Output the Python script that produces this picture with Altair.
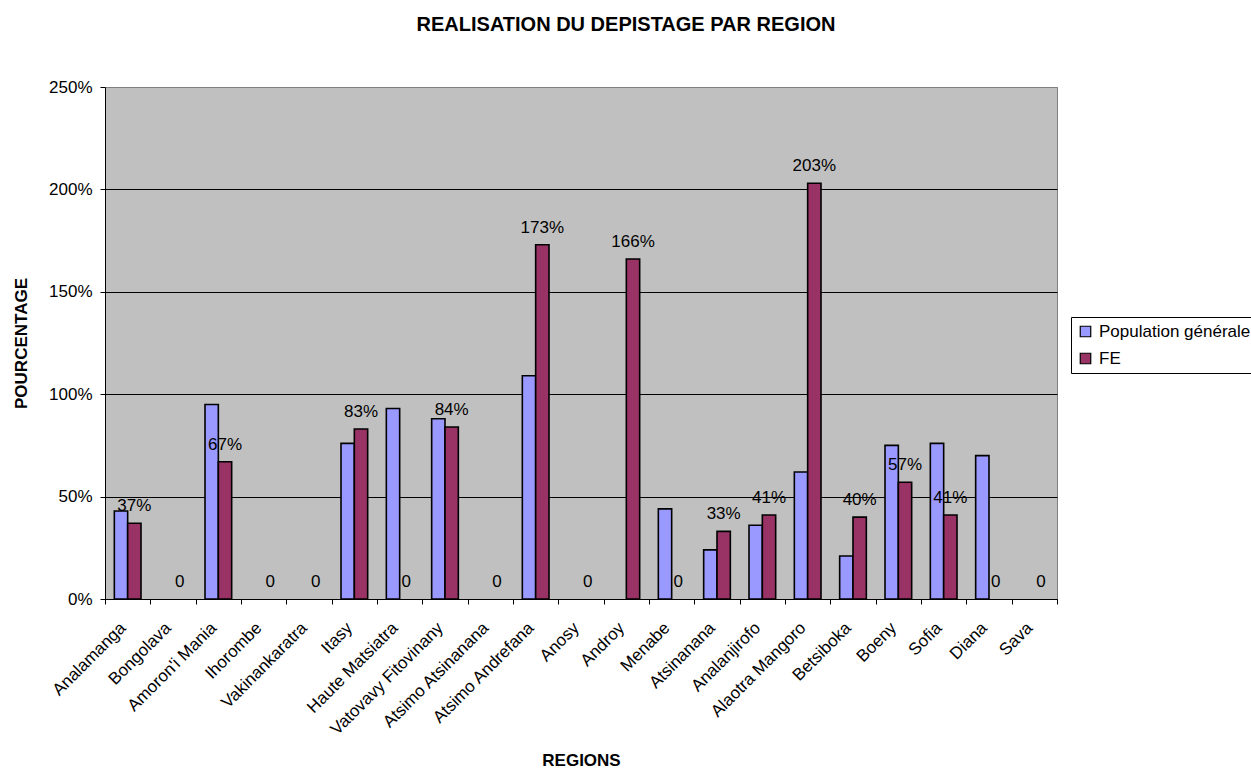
import altair as alt
import pandas as pd

# Regions in display order
regions = [
    "Analamanga", "Bongolava", "Amoron'i Mania", "Ihorombe", "Vakinankaratra",
    "Itasy", "Haute Matsiatra", "Vatovavy Fitovinany", "Atsimo Atsinanana",
    "Atsimo Andrefana", "Anosy", "Androy", "Menabe", "Atsinanana",
    "Analanjirofo", "Alaotra Mangoro", "Betsiboka", "Boeny", "Sofia",
    "Diana", "Sava",
]

# Screening achievement (fraction of target)
pop_generale = [0.43, 0, 0.95, 0, 0, 0.76, 0.93, 0.88, 0, 1.09, 0,
                0, 0.44, 0.24, 0.36, 0.62, 0.21, 0.75, 0.76, 0.70, 0]
fe = [0.37, 0, 0.67, 0, 0, 0.83, 0, 0.84, 0, 1.73, 0,
      1.66, 0, 0.33, 0.41, 2.03, 0.40, 0.57, 0.41, 0, 0]

series = ["Population générale", "FE"]
series_colors = ["#9999FF", "#993366"]
y_ticks = [0, 0.5, 1.0, 1.5, 2.0, 2.5]

FONT = "Liberation Sans"

df = pd.DataFrame({
    "region": regions * 2,
    "serie": [series[0]] * len(regions) + [series[1]] * len(regions),
    "value": pop_generale + fe,
})

x_enc = alt.X(
    "region:N",
    sort=regions,
    scale=alt.Scale(paddingInner=0, paddingOuter=0),
    axis=alt.Axis(
        title="REGIONS",
        titleFont=FONT, titleFontSize=17, titleFontWeight="bold",
        titleColor="black", titleX=476, titleY=161, titleBaseline="middle",
        labelAngle=-45, labelAlign="right", labelBaseline="middle",
        labelFont=FONT, labelFontSize=17, labelColor="black",
        labelPadding=21, labelOffset=-5,
        tickBand="extent", tickSize=5, tickColor="black",
        domainColor="black", grid=False, labelLimit=400,
    ),
)
xoff_enc = alt.XOffset(
    "serie:N", sort=series,
    scale=alt.Scale(domain=series, paddingInner=0, paddingOuter=0.7),
)
y_enc = alt.Y(
    "value:Q",
    scale=alt.Scale(domain=[0, 2.5], nice=False, zero=True),
    axis=alt.Axis(
        title="POURCENTAGE",
        titleFont=FONT, titleFontSize=17, titleFontWeight="bold",
        titleColor="black", titleX=-84, titleY=256, titleBaseline="middle",
        values=y_ticks, format=".0%",
        labelFont=FONT, labelFontSize=17, labelColor="black", labelPadding=8,
        tickSize=5, tickColor="black", domainColor="black",
        grid=True, gridWidth=1,
        gridColor={"condition": {"test": "datum.value >= 2.5", "value": "#808080"},
                   "value": "black"},
    ),
)
color_enc = alt.Color(
    "serie:N", sort=series,
    scale=alt.Scale(domain=series, range=series_colors),
    legend=alt.Legend(
        title=None, orient="none", legendX=966, legendY=230,
        symbolType="square", symbolSize=110, symbolStrokeColor="black",
        symbolStrokeWidth=1.2, symbolOpacity=1,
        labelFont=FONT, labelFontSize=17, labelColor="black", labelLimit=400,
        labelOffset=5, rowPadding=9, padding=6,
        strokeColor="black", fillColor="white",
    ),
)

bars = (
    alt.Chart(df)
    .transform_filter("datum.value > 0")
    .mark_bar(stroke="black", strokeWidth=1.6)
    .encode(x=x_enc, xOffset=xoff_enc, y=y_enc, color=color_enc)
)

labels = (
    alt.Chart(df)
    .transform_filter("datum.serie == 'FE'")
    .transform_calculate(label="datum.value == 0 ? '0' : format(datum.value, '.0%')")
    .mark_text(font=FONT, fontSize=17, color="black", baseline="alphabetic", dy=-12)
    .encode(x=x_enc, xOffset=xoff_enc, y=y_enc, text="label:N")
)

chart = (
    alt.layer(bars, labels)
    .properties(
        width=952, height=512,
        title=alt.TitleParams(
            "REALISATION DU DEPISTAGE PAR REGION",
            anchor="middle", dx=45, offset=27, baseline="alphabetic",
            font=FONT, fontSize=20, fontWeight="bold", color="black",
        ),
        autosize=alt.AutoSizeParams(type="none"),
        padding={"left": 105, "top": 87, "right": 194, "bottom": 169},
        background="white",
    )
    .configure_view(fill="#C0C0C0", stroke="#808080", strokeWidth=1)
)

chart.save("out.html", embed_options={"renderer": "svg", "actions": False})
